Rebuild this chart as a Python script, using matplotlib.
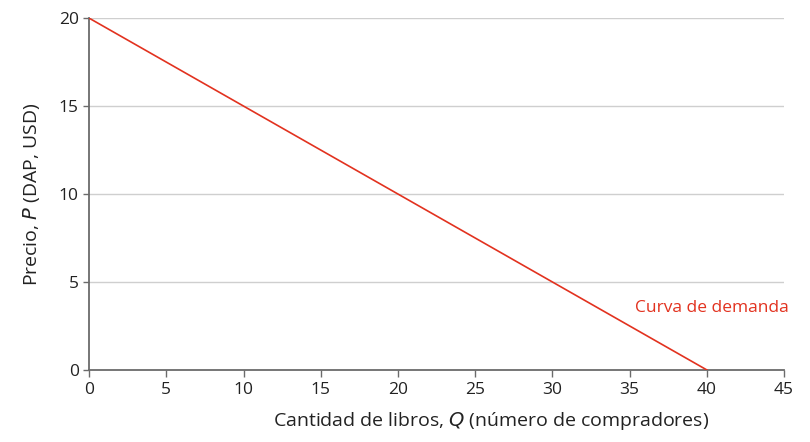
import matplotlib
matplotlib.use('Agg')
import matplotlib.pyplot as plt

plt.rcParams['font.family'] = ['Open Sans', 'DejaVu Sans']

# demand curve endpoints
quantity = [0, 40]
price = [20, 0]
x_ticks = [0, 5, 10, 15, 20, 25, 30, 35, 40, 45]
y_ticks = [0, 5, 10, 15, 20]
curve_label = 'Curva de demanda'
label_pos = (40.3, 3.5)

red = '#e2321f'
axis_grey = '#6b6b6b'

fig = plt.figure(figsize=(8.1, 4.42), dpi=100)
ax = fig.add_axes([0.110, 0.163, 0.858, 0.796])

for y in y_ticks[1:]:
    ax.axhline(y, color='#cfcfcf', linewidth=1.0, zorder=1)

ax.plot(quantity, price, color=red, linewidth=1.2, zorder=3)
ax.text(label_pos[0], label_pos[1], curve_label, color=red, fontsize=12.5,
        ha='center', va='center')

ax.set_xlim(0, 45)
ax.set_ylim(0, 20)
ax.set_xticks(x_ticks)
ax.set_yticks(y_ticks)
ax.tick_params(axis='both', colors=axis_grey, labelcolor='#222222', labelsize=12.5,
               length=5, width=1)
ax.tick_params(axis='y', length=4)

for side in ['top', 'right']:
    ax.spines[side].set_visible(False)
for side in ['left', 'bottom']:
    ax.spines[side].set_color(axis_grey)
    ax.spines[side].set_linewidth(1.3)

ax.set_xlabel('Cantidad de libros, $\\it{Q}$ (número de compradores)', fontsize=14,
              color='#222222', labelpad=8)
ax.xaxis.set_label_coords(0.578, -0.115)
ax.set_ylabel('Precio, $\\it{P}$ (DAP, USD)', fontsize=14, color='#222222', labelpad=12)

fig.savefig('out.png', dpi=100)
